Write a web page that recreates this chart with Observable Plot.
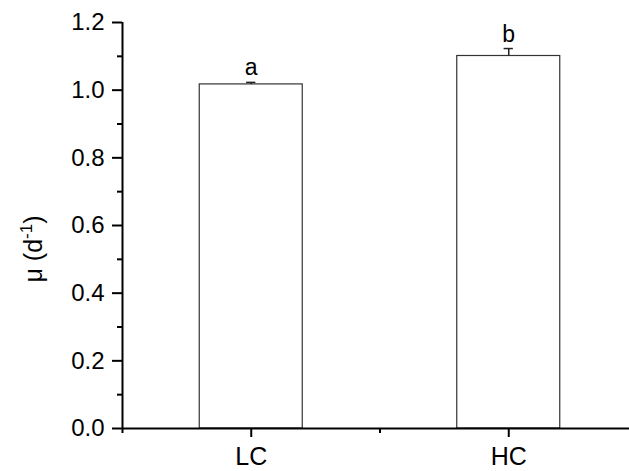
<!DOCTYPE html>
<html>
<head>
<meta charset="utf-8">
<script src="https://cdn.jsdelivr.net/npm/d3@7"></script>
<script src="https://cdn.jsdelivr.net/npm/@observablehq/plot@0.6"></script>
<style>
  html, body { margin: 0; padding: 0; background: #fff; }
  #chart svg { display: block; }
</style>
</head>
<body>
<div id="chart"></div>
<script>
const categories = ["LC", "HC"];
const positions = [1, 2];
const values = [1.017, 1.101];
const errors = [0.006, 0.022];
const letters = ["a", "b"];
const yTicks = [0, 0.2, 0.4, 0.6, 0.8, 1.0, 1.2];
const yMinorTicks = [0.1, 0.3, 0.5, 0.7, 0.9, 1.1];
const xMinorTicks = [0.5, 1.5];

const data = categories.map((c, i) => ({
  cat: c, x: positions[i], value: values[i], err: errors[i], letter: letters[i]
}));

const font = "'Liberation Sans', Arial, sans-serif";
const halfBar = 0.2;
const halfCap = 0.018;

const plot = Plot.plot({
  width: 629,
  height: 471,
  marginLeft: 122,
  marginRight: 0,
  marginTop: 22,
  marginBottom: 43,
  style: { fontFamily: font, color: "#000", background: "#fff" },
  x: { type: "linear", domain: [0.5, 2.5], range: [122, 637], axis: null },
  y: { domain: [0, 1.2], axis: null },
  marks: [
    Plot.rectY(data, {
      x1: d => d.x - halfBar, x2: d => d.x + halfBar,
      y1: 0, y2: "value",
      fill: "white", stroke: "#333", strokeWidth: 1.2
    }),
    Plot.ruleX(data, { x: "x", y1: "value", y2: d => d.value + d.err, stroke: "#222", strokeWidth: 1.5 }),
    Plot.ruleY(data, { y: d => d.value + d.err, x1: d => d.x - halfCap, x2: d => d.x + halfCap, stroke: "#222", strokeWidth: 1.5 }),
    Plot.text(data, {
      x: "x", y: d => d.value + d.err, text: "letter",
      lineAnchor: "bottom", dy: -7, fontSize: 23, fill: "#000"
    }),
    Plot.axisY({ ticks: yTicks, tickFormat: d3.format(".1f"), tickSize: 10, tickPadding: 8, fontSize: 24, strokeWidth: 2, label: null, anchor: "left" }),
    Plot.axisY({ ticks: yMinorTicks, tickFormat: () => "", tickSize: 5, strokeWidth: 2, label: null, anchor: "left" }),
    Plot.axisX({ ticks: positions, tickFormat: (d) => categories[positions.indexOf(d)], tickSize: 9, tickPadding: 10, fontSize: 25, strokeWidth: 2, label: null, anchor: "bottom" }),
    Plot.axisX({ ticks: xMinorTicks, tickFormat: () => "", tickSize: 5, strokeWidth: 2, label: null, anchor: "bottom" }),
    Plot.ruleX([0.5], { y1: 0, y2: 1.2, stroke: "#000", strokeWidth: 2 }),
    Plot.ruleY([0], { x1: 0.5, x2: 2.5, stroke: "#000", strokeWidth: 2 })
  ]
});

document.getElementById("chart").appendChild(plot);

// Y-axis title with superscript
const svg = d3.select(plot);
const t = svg.append("text")
  .attr("transform", "translate(42,249) rotate(-90)")
  .attr("text-anchor", "middle")
  .attr("font-family", font)
  .attr("font-size", 25)
  .attr("fill", "#000");
t.append("tspan").text("μ (d");
t.append("tspan").attr("font-size", 17).attr("dy", -10).text("-1");
t.append("tspan").attr("dy", 10).text(")");
</script>
</body>
</html>
